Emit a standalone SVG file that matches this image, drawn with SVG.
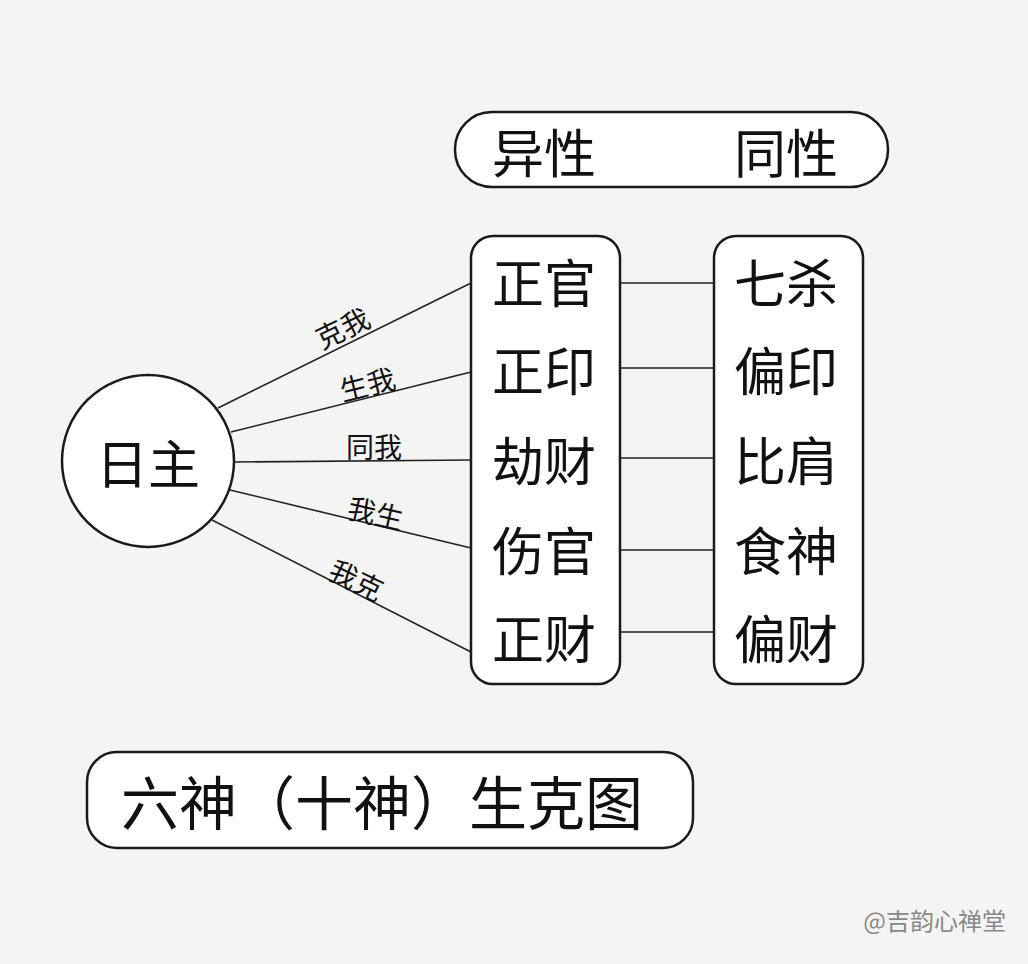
<svg xmlns="http://www.w3.org/2000/svg" width="1028" height="964" viewBox="0 0 1028 964">
<style>
.b{fill:#fff;stroke:#1a1a1a;stroke-width:2.5}
.t{font-family:"Noto Sans CJK SC","Noto Sans",sans-serif;fill:#111;font-size:52px;text-anchor:middle;dominant-baseline:central}
.s{font-family:"Noto Sans CJK SC","Noto Sans",sans-serif;fill:#111;font-size:28px;text-anchor:middle;dominant-baseline:central}
.l{stroke:#222;stroke-width:1.6;fill:none}
</style>
<rect width="1028" height="964" fill="#f4f4f4"/>
<g id="header"><rect class="b" x="455" y="112" width="433" height="75" rx="37"/>
<text class="t" x="544" y="150">异性</text><text class="t" x="786" y="150">同性</text></g>
<g id="rizhu"><circle class="b" cx="148" cy="461" r="86"/><text class="t" x="148" y="461">日主</text></g>
<g id="left"><rect class="b" x="471" y="236" width="149" height="448" rx="22"/>
<text class="t" x="544" y="280">正官</text><text class="t" x="544" y="368">正印</text><text class="t" x="544" y="458">劫财</text><text class="t" x="544" y="548">伤官</text><text class="t" x="544" y="636">正财</text></g>
<g id="right"><rect class="b" x="714" y="236" width="149" height="448" rx="22"/>
<text class="t" x="786" y="280">七杀</text><text class="t" x="786" y="368">偏印</text><text class="t" x="786" y="458">比肩</text><text class="t" x="786" y="548">食神</text><text class="t" x="786" y="636">偏财</text></g>
<g id="connectors">
<line class="l" x1="218" y1="408" x2="471" y2="283"/>
<line class="l" x1="231" y1="432" x2="471" y2="372"/>
<line class="l" x1="234" y1="462" x2="471" y2="460"/>
<line class="l" x1="230" y1="490" x2="471" y2="548"/>
<line class="l" x1="212" y1="520" x2="471" y2="652"/>
<line class="l" x1="620" y1="283" x2="714" y2="283"/>
<line class="l" x1="620" y1="368" x2="714" y2="368"/>
<line class="l" x1="620" y1="458" x2="714" y2="458"/>
<line class="l" x1="620" y1="550" x2="714" y2="550"/>
<line class="l" x1="620" y1="632" x2="714" y2="632"/>
</g>
<g id="labels">
<text class="s" transform="translate(342,327) rotate(-26)">克我</text>
<text class="s" transform="translate(367,383) rotate(-14)">生我</text>
<text class="s" transform="translate(374,446)">同我</text>
<text class="s" transform="translate(376,512) rotate(13)">我生</text>
<text class="s" transform="translate(357,579) rotate(26)">我克</text>
</g>
<g id="title"><rect class="b" x="87" y="752" width="606" height="96" rx="30"/>
<text class="t" x="382" y="800" style="font-size:58px">六神（十神）生克图</text></g>
<text x="1006" y="930" style="font-family:'Noto Sans CJK SC',sans-serif;font-size:24px;fill:#888;text-anchor:end">@吉韵心禅堂</text>
</svg>
